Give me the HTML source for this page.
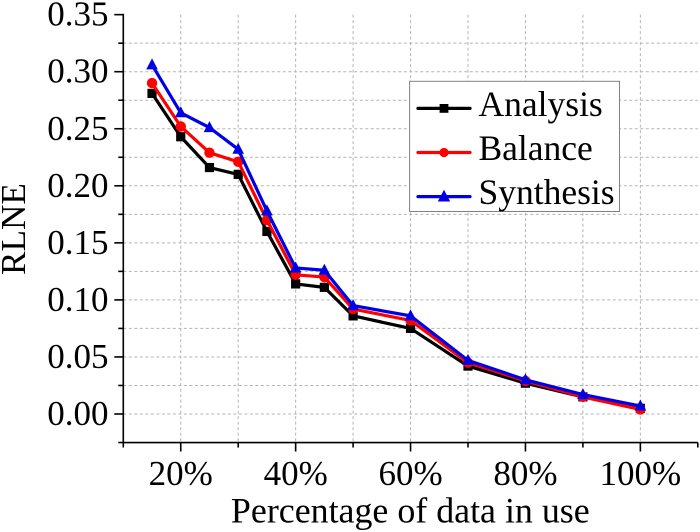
<!DOCTYPE html>
<html>
<head>
<meta charset="utf-8">
<style>
html,body{margin:0;padding:0;background:#fff;}
svg{display:block;}
text{font-family:"Liberation Serif",serif;fill:#000;}
</style>
</head>
<body>
<svg id="chart" width="700" height="532" viewBox="0 0 700 532" xmlns="http://www.w3.org/2000/svg"></svg>
<script>
var percentages = [15, 20, 25, 30, 35, 40, 45, 50, 60, 70, 80, 90, 100];
var analysisValues = [0.281, 0.243, 0.216, 0.210, 0.160, 0.114, 0.111, 0.086, 0.075, 0.042, 0.027, 0.015, 0.005];
var balanceValues = [0.290, 0.252, 0.229, 0.221, 0.170, 0.122, 0.120, 0.092, 0.082, 0.045, 0.029, 0.015, 0.004];
var synthesisValues = [0.306, 0.264, 0.251, 0.232, 0.178, 0.128, 0.126, 0.095, 0.086, 0.047, 0.030, 0.017, 0.007];
var xTickValues = [20, 40, 60, 80, 100];
var xMinorTickValues = [10, 30, 50, 70, 90, 110];
var yTickValues = [0, 0.05, 0.10, 0.15, 0.20, 0.25, 0.30, 0.35];
var yMinorTickValues = [-0.025, 0.025, 0.075, 0.125, 0.175, 0.225, 0.275, 0.325];
var seriesNames = ["Analysis", "Balance", "Synthesis"];

var svg = document.getElementById('chart');
var NS = 'http://www.w3.org/2000/svg';
function xScale(v) { return 123.3 + (v - 10) * 5.745; }
function yScale(v) { return 414 - v * 1141; }
function make(tag, attrs, parent) {
  var el = document.createElementNS(NS, tag);
  for (var k in attrs) { el.setAttribute(k, attrs[k]); }
  (parent || svg).appendChild(el);
  return el;
}
function label(x, y, str, size, anchor, parent) {
  var t = make('text', { x: x, y: y, 'font-size': size, 'text-anchor': anchor }, parent);
  t.textContent = str;
  return t;
}
function drawMarker(kind, x, y, color, size, parent) {
  var s = size;
  if (kind === 'square') {
    return make('rect', { x: x - s, y: y - s, width: 2 * s, height: 2 * s, fill: color }, parent);
  }
  if (kind === 'circle') {
    return make('circle', { cx: x, cy: y, r: s + 0.3, fill: color }, parent);
  }
  var pts = x + ',' + (y - s - 1.5) + ' ' + (x + s + 0.8) + ',' + (y + s - 0.5) + ' ' + (x - s - 0.8) + ',' + (y + s - 0.5);
  return make('polygon', { points: pts, fill: color }, parent);
}

/* grid */
var grid = make('g', { fill: 'none', stroke: '#b4b4b4', 'stroke-width': 1, 'stroke-dasharray': '3 2.5' });


xTickValues.concat(xMinorTickValues.slice(1, 5)).forEach(function (v) {
  var l = make('line', { x1: xScale(v), x2: xScale(v), y1: yScale(0.35), y2: yScale(-0.025) }, grid);
  
  
});
yTickValues.slice(0, 7).concat(yMinorTickValues.slice(1)).forEach(function (v) {
  var l = make('line', { x1: xScale(10), x2: xScale(110), y1: yScale(v), y2: yScale(v) }, grid);
  
  
});

/* axes */
var axes = make('g', { stroke: '#000', 'stroke-width': 1.6, fill: 'none' });


var yAxis = make('line', { x1: xScale(10), x2: xScale(10), y1: yScale(0.35) - 0.8, y2: yScale(-0.025) + 0.8 }, axes);


var xAxis = make('line', { x1: xScale(10) - 0.8, x2: xScale(110), y1: yScale(-0.025), y2: yScale(-0.025) }, axes);


yTickValues.forEach(function (v) {
  var m = make('line', { x1: xScale(10) - 9, x2: xScale(10), y1: yScale(v), y2: yScale(v) }, axes);
  
  
});
yMinorTickValues.forEach(function (v) {
  var m = make('line', { x1: xScale(10) - 5, x2: xScale(10), y1: yScale(v), y2: yScale(v) }, axes);
  
  
});
xTickValues.forEach(function (v) {
  var m = make('line', { x1: xScale(v), x2: xScale(v), y1: yScale(-0.025), y2: yScale(-0.025) + 9 }, axes);
  
  
});
xMinorTickValues.forEach(function (v) {
  var m = make('line', { x1: xScale(v), x2: xScale(v), y1: yScale(-0.025), y2: yScale(-0.025) + 5 }, axes);
  
  
});

/* tick labels */
yTickValues.forEach(function (v) {
  var t = label(108.5, yScale(v) + 11, v.toFixed(2), 35, 'end');
  
  
});
xTickValues.forEach(function (v) {
  var t = label(xScale(v), 485, v + '%', 35, 'middle');
  
  
});

/* axis titles */
var xTitle = label(410.3, 522.5, 'Percentage of data in use', 35.9, 'middle');


var yTitle = label(0, 0, 'RLNE', 35.2, 'middle');
yTitle.setAttribute('transform', 'translate(25 229) rotate(-90)');



/* series */
function drawSeries(values, color, kind, size, name) {
  var g = make('g', {});
  
  
  var pts = values.map(function (v, i) { return xScale(percentages[i]) + ',' + yScale(v); }).join(' ');
  make('polyline', { points: pts, fill: 'none', stroke: color, 'stroke-width': 3.2, 'stroke-linejoin': 'round' }, g);
  values.forEach(function (v, i) {
    drawMarker(kind, xScale(percentages[i]), yScale(v), color, size, g);
  });
}
drawSeries(analysisValues, '#000000', 'square', 4.6, 'series-analysis');
drawSeries(balanceValues, '#ff0000', 'circle', 4.9, 'series-balance');
drawSeries(synthesisValues, '#0000e6', 'triangle', 5, 'series-synthesis');

/* legend */
var legend = make('g', {});


make('rect', { x: 409.6, y: 81.3, width: 209.9, height: 130.2, fill: '#fff', stroke: '#808080', 'stroke-width': 1 }, legend);
var legendColors = ['#000000', '#ff0000', '#0000e6'];
var legendKinds = ['square', 'circle', 'triangle'];
var legendSizes = [4.4, 4.3, 5.4];
seriesNames.forEach(function (name, i) {
  var y = 108.4 + i * 44.1;
  var e = make('g', {}, legend);
  
  
  make('line', { x1: 418, x2: 470, y1: y, y2: y, stroke: legendColors[i], 'stroke-width': 3.2, 'stroke-linecap': 'round' }, e);
  drawMarker(legendKinds[i], 444, y, legendColors[i], legendSizes[i], e);
  label(478.5, y + 7.5, name, 35.5, 'start', e);
});
</script>
</body>
</html>
